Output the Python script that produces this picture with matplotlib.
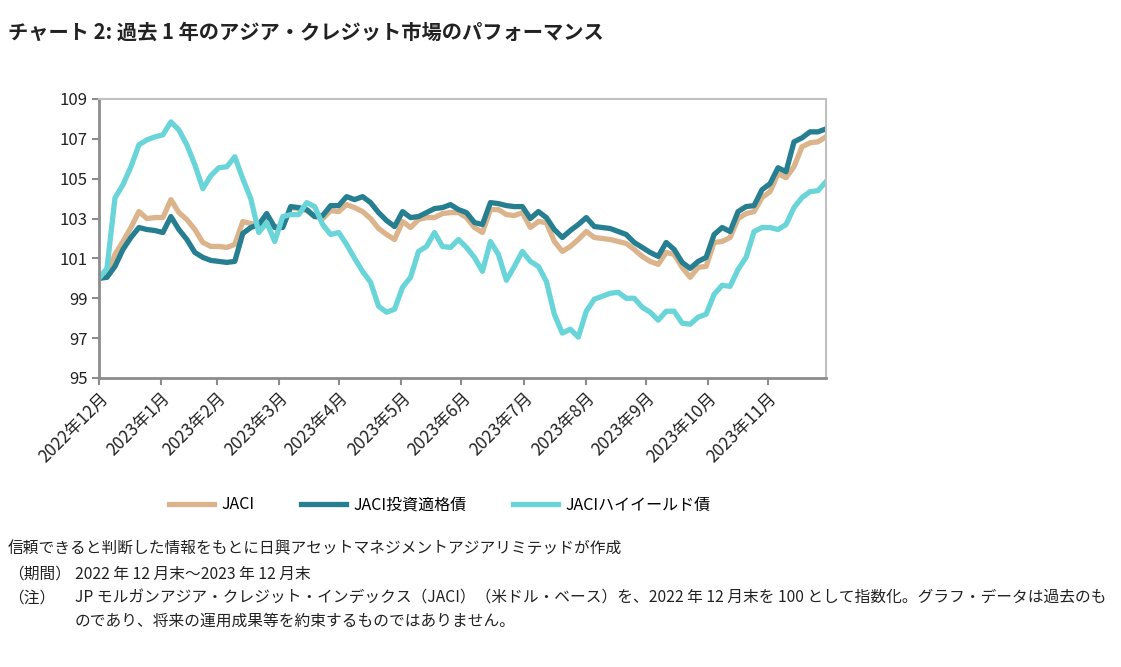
import numpy as np
import pandas as pd
import matplotlib
matplotlib.use("Agg")
import matplotlib.pyplot as plt

plt.rcParams['font.family'] = ['Noto Sans CJK JP', 'DejaVu Sans']

# 指数値 (2022年12月末 = 100)、ほぼ4日おきに読み取り
jaci = [100.0, 100.1, 101.2, 101.85, 102.55, 103.35, 103.0, 103.05, 103.05, 103.95,
        103.3, 102.95, 102.45, 101.8, 101.6, 101.6, 101.55, 101.7, 102.85, 102.75,
        102.7, 102.95, 102.6, 102.6, 103.55, 103.5, 103.4, 103.1, 103.0, 103.4,
        103.35, 103.7, 103.55, 103.35, 103.0, 102.5, 102.2, 101.95, 102.85, 102.55,
        102.95, 103.05, 103.05, 103.25, 103.3, 103.3, 103.05, 102.55, 102.3, 103.45,
        103.45, 103.2, 103.15, 103.3, 102.55, 102.85, 102.8, 101.85, 101.35, 101.6,
        101.95, 102.35, 102.05, 102.0, 101.95, 101.85, 101.75, 101.45, 101.1, 100.85,
        100.7, 101.3, 101.2, 100.55, 100.05, 100.55, 100.6, 101.8, 101.85, 102.05,
        103.0, 103.25, 103.35, 104.05, 104.35, 105.25, 105.05, 105.6, 106.6, 106.8,
        106.85, 107.1]

jaci_ig = [100.0, 100.05, 100.6, 101.45, 102.05, 102.55, 102.45, 102.4, 102.3, 103.1,
           102.45, 101.95, 101.3, 101.05, 100.9, 100.85, 100.8, 100.85, 102.25, 102.55,
           102.7, 103.25, 102.55, 102.55, 103.6, 103.55, 103.45, 103.1, 103.15, 103.65,
           103.65, 104.1, 103.95, 104.1, 103.8, 103.3, 102.9, 102.6, 103.35, 103.05,
           103.1, 103.3, 103.5, 103.55, 103.7, 103.45, 103.3, 102.8, 102.7, 103.8,
           103.75, 103.65, 103.6, 103.6, 103.0, 103.35, 103.05, 102.45, 102.05, 102.4,
           102.7, 103.05, 102.6, 102.55, 102.5, 102.35, 102.2, 101.8, 101.55, 101.3,
           101.1, 101.8, 101.45, 100.8, 100.5, 100.85, 101.05, 102.2, 102.55, 102.35,
           103.35, 103.6, 103.65, 104.45, 104.75, 105.55, 105.35, 106.85, 107.05, 107.35,
           107.35, 107.5]

jaci_hy = [100.0, 100.5, 104.03, 104.7, 105.6, 106.7, 106.95, 107.1, 107.2, 107.85,
           107.45, 106.7, 105.7, 104.5, 105.15, 105.55, 105.6, 106.1, 105.0, 104.0,
           102.3, 102.8, 101.85, 103.1, 103.2, 103.2, 103.8, 103.6, 102.7, 102.2,
           102.3, 101.7, 101.0, 100.35, 99.8, 98.6, 98.3, 98.45, 99.55, 100.05,
           101.35, 101.6, 102.3, 101.6, 101.55, 101.95, 101.55, 101.05, 100.35, 101.85,
           101.2, 99.9, 100.6, 101.35, 100.85, 100.6, 99.85, 98.2, 97.25, 97.45,
           97.05, 98.35, 98.95, 99.1, 99.25, 99.3, 99.0, 99.0, 98.55, 98.3,
           97.9, 98.35, 98.35, 97.75, 97.7, 98.05, 98.2, 99.2, 99.65, 99.6,
           100.45, 101.05, 102.35, 102.55, 102.55, 102.45, 102.7, 103.55, 104.05, 104.35,
           104.4, 104.85]

series_names = ["JACI", "JACI投資適格債", "JACIハイイールド債"]
series_colors = ["#DBB48C", "#267F91", "#69D5D9"]

start_date = "2022-12-31"
end_date = "2023-12-29"
dates = pd.date_range(start_date, end_date, periods=len(jaci))
month_ticks = pd.date_range("2022-12-31", "2023-11-30", freq="ME")
tick_labels = [f"{d.year}年{d.month}月" for d in month_ticks]

fig = plt.figure(figsize=(11.21, 6.67), dpi=100)
ax = fig.add_axes([0.0883, 0.4333, 0.6485, 0.4183])

for vals, name, col in zip([jaci, jaci_ig, jaci_hy], series_names, series_colors):
    ax.plot(dates, vals, color=col, lw=3.8, label=name, solid_joinstyle="round")

ax.set_xlim(pd.Timestamp(start_date), pd.Timestamp(end_date))
ax.set_ylim(95, 109)
ax.set_yticks(np.arange(95, 110, 2))
ax.set_xticks(month_ticks)
ax.set_xticklabels(tick_labels, rotation=45, ha="right", rotation_mode="anchor",
                   fontsize=12.2, color="#222222")
ax.tick_params(axis="y", labelsize=12, labelcolor="#222222", length=5,
               width=1.5, color="#8c8c8c", pad=3)
ax.tick_params(axis="x", length=5, width=1.5, color="#8c8c8c", pad=3)

for s in ["left", "bottom"]:
    ax.spines[s].set_color("#8c8c8c")
    ax.spines[s].set_linewidth(2)
for s in ["top", "right"]:
    ax.spines[s].set_color("#c0c0c0")
    ax.spines[s].set_linewidth(1.5)

fig.text(0.007, 0.952, "チャート 2: 過去 1 年のアジア・クレジット市場のパフォーマンス",
         fontsize=14.6, fontweight="bold", color="#222222", va="center")

fig.legend(loc="center", bbox_to_anchor=(0.3925, 0.243), ncol=3, frameon=False,
           fontsize=11.5, handlelength=2.8, columnspacing=2.9, handletextpad=0.5)

notes_x = 0.007
indent_x = 0.067
note_fs = 11.3
fig.text(notes_x, 0.177, "信頼できると判断した情報をもとに日興アセットマネジメントアジアリミテッドが作成",
         fontsize=note_fs, va="center", color="#222222")
fig.text(notes_x, 0.139, "（期間）", fontsize=note_fs, va="center", color="#222222")
fig.text(indent_x, 0.139, "2022 年 12 月末～2023 年 12 月末", fontsize=note_fs, va="center", color="#222222")
fig.text(notes_x, 0.103, "（注）", fontsize=note_fs, va="center", color="#222222")
fig.text(indent_x, 0.103, "JP モルガンアジア・クレジット・インデックス（JACI）（米ドル・ベース）を、2022 年 12 月末を 100 として指数化。グラフ・データは過去のも",
         fontsize=note_fs, va="center", color="#222222")
fig.text(indent_x, 0.068, "のであり、将来の運用成果等を約束するものではありません。",
         fontsize=note_fs, va="center", color="#222222")

fig.savefig("out.png", dpi=100)
